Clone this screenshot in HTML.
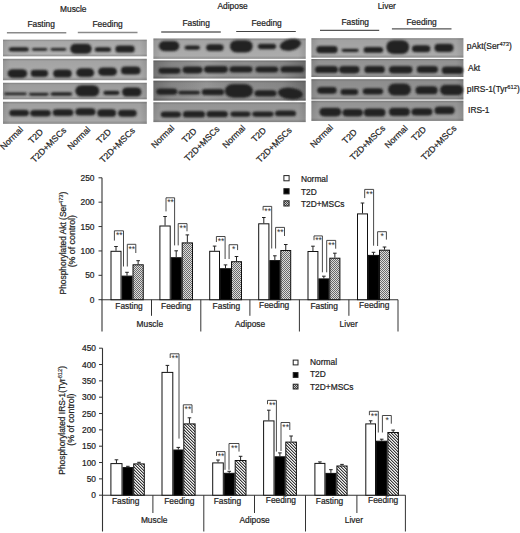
<!DOCTYPE html><html><head><meta charset="utf-8"><style>html,body{margin:0;padding:0;background:#fff;}svg{display:block;}</style></head><body>
<svg width="520" height="533" viewBox="0 0 520 533" font-family='"Liberation Sans", sans-serif'>
<style>text{stroke:#2a2a2a;stroke-width:0.22;paint-order:stroke;}</style>
<defs>
<filter id="bl" x="-20%" y="-50%" width="140%" height="200%"><feGaussianBlur stdDeviation="0.85"/></filter>
<filter id="bl2" x="-5%" y="-5%" width="110%" height="110%"><feGaussianBlur stdDeviation="0.5"/></filter>
<pattern id="p1" x="0" y="0" width="2" height="2" patternUnits="userSpaceOnUse"><rect width="2" height="2" fill="#dcdcdc"/><rect width="1" height="1" fill="#6a6a6a"/><rect x="1" y="1" width="1" height="1" fill="#6a6a6a"/></pattern>
<pattern id="p1s" x="0" y="0" width="2" height="2" patternUnits="userSpaceOnUse"><rect width="2" height="2" fill="#c8c8c8"/><rect width="1" height="1" fill="#444"/><rect x="1" y="1" width="1" height="1" fill="#444"/></pattern>
<pattern id="p2" x="0" y="0" width="3" height="3" patternUnits="userSpaceOnUse"><rect width="3" height="3" fill="#f4f4f4"/><rect x="0" y="0" width="1" height="1" fill="#3a3a3a"/><rect x="1" y="1" width="1" height="1" fill="#3a3a3a"/><rect x="2" y="2" width="1" height="1" fill="#3a3a3a"/><rect x="1" y="0" width="1" height="1" fill="#a8a8a8"/><rect x="2" y="1" width="1" height="1" fill="#a8a8a8"/><rect x="0" y="2" width="1" height="1" fill="#a8a8a8"/></pattern>
<pattern id="p2s" x="0" y="0" width="2" height="2" patternUnits="userSpaceOnUse"><rect width="2" height="2" fill="#c8c8c8"/><rect width="1" height="1" fill="#444"/><rect x="1" y="1" width="1" height="1" fill="#444"/></pattern>
<linearGradient id="edgev" x1="0" y1="0" x2="0" y2="1"><stop offset="0" stop-color="#000" stop-opacity="0.22"/><stop offset="0.12" stop-color="#000" stop-opacity="0.05"/><stop offset="0.85" stop-color="#000" stop-opacity="0.0"/><stop offset="1" stop-color="#000" stop-opacity="0.18"/></linearGradient>
<linearGradient id="edgeh2" x1="0" y1="0" x2="1" y2="0"><stop offset="0" stop-color="#000" stop-opacity="0.22"/><stop offset="0.12" stop-color="#000" stop-opacity="0.06"/><stop offset="0.35" stop-color="#fff" stop-opacity="0.08"/><stop offset="0.6" stop-color="#000" stop-opacity="0.0"/><stop offset="0.85" stop-color="#000" stop-opacity="0.05"/><stop offset="1" stop-color="#000" stop-opacity="0.25"/></linearGradient>
<linearGradient id="edgeh" x1="0" y1="0" x2="1" y2="0"><stop offset="0" stop-color="#000" stop-opacity="0.10"/><stop offset="0.05" stop-color="#000" stop-opacity="0.0"/><stop offset="0.95" stop-color="#000" stop-opacity="0.0"/><stop offset="1" stop-color="#000" stop-opacity="0.10"/></linearGradient>
</defs>
<rect width="520" height="533" fill="#fff"/>
<text x="60.00" y="11.60" font-size="8.4" text-anchor="start" fill="#222" >Muscle</text>
<text x="217.50" y="8.50" font-size="8.4" text-anchor="start" fill="#222" >Adipose</text>
<text x="377.70" y="8.50" font-size="8.4" text-anchor="start" fill="#222" >Liver</text>
<text x="27.40" y="26.70" font-size="8.4" text-anchor="start" fill="#222" >Fasting</text>
<text x="92.50" y="27.30" font-size="8.4" text-anchor="start" fill="#222" >Feeding</text>
<text x="182.40" y="25.80" font-size="8.4" text-anchor="start" fill="#222" >Fasting</text>
<text x="251.50" y="26.20" font-size="8.4" text-anchor="start" fill="#222" >Feeding</text>
<text x="341.50" y="24.90" font-size="8.4" text-anchor="start" fill="#222" >Fasting</text>
<text x="406.50" y="24.60" font-size="8.4" text-anchor="start" fill="#222" >Feeding</text>
<line x1="6.90" y1="32.80" x2="66.30" y2="32.80" stroke="#8a8a8a" stroke-width="1.6"/>
<line x1="77.80" y1="32.50" x2="137.50" y2="32.50" stroke="#8a8a8a" stroke-width="1.6"/>
<line x1="161.20" y1="32.00" x2="220.80" y2="32.00" stroke="#666" stroke-width="1.4"/>
<line x1="236.20" y1="31.50" x2="295.80" y2="31.50" stroke="#444" stroke-width="1.2"/>
<line x1="320.00" y1="30.30" x2="379.20" y2="30.30" stroke="#555" stroke-width="1.2"/>
<line x1="391.90" y1="28.90" x2="451.50" y2="28.90" stroke="#555" stroke-width="1.2"/>
<rect x="3.00" y="39.70" width="143.80" height="16.60" fill="#b0b0b0" />
<rect x="3.00" y="39.70" width="143.80" height="16.60" fill="url(#edgev)" />
<rect x="3.00" y="39.70" width="143.80" height="16.60" fill="url(#edgeh)" />
<rect x="3.00" y="58.80" width="143.80" height="21.40" fill="#acacac" />
<rect x="3.00" y="58.80" width="143.80" height="21.40" fill="url(#edgev)" />
<rect x="3.00" y="58.80" width="143.80" height="21.40" fill="url(#edgeh)" />
<rect x="3.00" y="82.80" width="143.80" height="16.50" fill="#a4a4a4" />
<rect x="3.00" y="82.80" width="143.80" height="16.50" fill="url(#edgev)" />
<rect x="3.00" y="82.80" width="143.80" height="16.50" fill="url(#edgeh)" />
<rect x="3.00" y="101.80" width="143.80" height="22.00" fill="#a8a8a8" />
<rect x="3.00" y="101.80" width="143.80" height="22.00" fill="url(#edgev)" />
<rect x="3.00" y="101.80" width="143.80" height="22.00" fill="url(#edgeh)" />
<g filter="url(#bl)" fill="#232323">
<rect x="8.80" y="47.25" width="20.10" height="4.20" rx="2.69" ry="1.89"/>
<rect x="31.90" y="47.95" width="15.50" height="2.80" rx="2.06" ry="1.26"/>
<rect x="50.50" y="47.95" width="15.80" height="2.80" rx="2.06" ry="1.26"/>
<rect x="70.30" y="43.80" width="21.30" height="10.00" rx="5.30" ry="4.50"/>
<rect x="94.80" y="47.25" width="16.20" height="4.50" rx="2.83" ry="2.02"/>
<rect x="115.40" y="45.50" width="19.20" height="7.10" rx="4.00" ry="3.20"/>
<rect x="7.60" y="69.20" width="19.60" height="8.80" rx="4.76" ry="3.96"/>
<rect x="30.70" y="69.70" width="17.40" height="7.40" rx="4.13" ry="3.33"/>
<rect x="53.20" y="69.40" width="18.50" height="8.20" rx="4.49" ry="3.69"/>
<rect x="76.30" y="68.30" width="17.80" height="8.80" rx="4.76" ry="3.96"/>
<rect x="98.20" y="67.40" width="18.70" height="8.40" rx="4.58" ry="3.78"/>
<rect x="121.00" y="66.60" width="19.50" height="8.00" rx="4.40" ry="3.60"/>
<rect x="4.20" y="92.45" width="22.50" height="2.90" rx="2.10" ry="1.30"/>
<rect x="29.00" y="92.75" width="19.60" height="2.90" rx="2.11" ry="1.31"/>
<rect x="50.50" y="92.25" width="21.70" height="3.40" rx="2.33" ry="1.53"/>
<rect x="75.40" y="85.20" width="23.80" height="11.40" rx="5.93" ry="5.13"/>
<rect x="103.30" y="90.65" width="16.20" height="4.30" rx="2.73" ry="1.93"/>
<rect x="122.20" y="87.40" width="19.20" height="9.20" rx="4.94" ry="4.14"/>
<rect x="9.30" y="109.70" width="19.60" height="6.60" rx="3.77" ry="2.97"/>
<rect x="30.20" y="109.90" width="20.60" height="6.70" rx="3.81" ry="3.01"/>
<rect x="52.70" y="109.20" width="20.70" height="6.70" rx="3.81" ry="3.01"/>
<rect x="75.40" y="108.30" width="20.10" height="7.30" rx="4.08" ry="3.28"/>
<rect x="97.30" y="109.20" width="18.80" height="7.60" rx="4.22" ry="3.42"/>
<rect x="118.10" y="109.70" width="18.60" height="7.10" rx="3.99" ry="3.19"/>
</g>
<rect x="153.40" y="38.50" width="152.30" height="20.30" fill="#acacac" />
<rect x="153.40" y="38.50" width="152.30" height="20.30" fill="url(#edgev)" />
<rect x="153.40" y="38.50" width="152.30" height="20.30" fill="url(#edgeh)" />
<rect x="153.40" y="60.50" width="152.30" height="18.00" fill="#949494" />
<rect x="153.40" y="60.50" width="152.30" height="18.00" fill="url(#edgev)" />
<rect x="153.40" y="60.50" width="152.30" height="18.00" fill="url(#edgeh2)" />
<rect x="153.40" y="80.70" width="152.30" height="19.90" fill="#939393" />
<rect x="153.40" y="80.70" width="152.30" height="19.90" fill="url(#edgev)" />
<rect x="153.40" y="80.70" width="152.30" height="19.90" fill="url(#edgeh2)" />
<rect x="153.40" y="102.30" width="152.30" height="19.80" fill="#9c9c9c" />
<rect x="153.40" y="102.30" width="152.30" height="19.80" fill="url(#edgev)" />
<rect x="153.40" y="102.30" width="152.30" height="19.80" fill="url(#edgeh)" />
<g filter="url(#bl)" fill="#232323">
<rect x="158.90" y="41.00" width="20.40" height="10.20" rx="5.88" ry="4.61"/>
<rect x="184.60" y="45.55" width="15.40" height="4.20" rx="2.69" ry="1.89"/>
<rect x="206.20" y="44.20" width="17.40" height="6.70" rx="3.82" ry="3.02"/>
<rect x="230.00" y="40.20" width="22.60" height="12.20" rx="6.54" ry="5.57"/>
<rect x="257.90" y="43.80" width="18.20" height="5.50" rx="3.28" ry="2.48"/>
<ellipse cx="290.40" cy="44.85" rx="10.80" ry="5.65" transform="rotate(-12 290.40 44.85)"/>
<rect x="158.50" y="67.80" width="22.00" height="5.90" rx="3.45" ry="2.65"/>
<rect x="182.60" y="66.60" width="19.90" height="6.80" rx="3.86" ry="3.06"/>
<rect x="204.00" y="66.10" width="23.80" height="6.80" rx="3.86" ry="3.06"/>
<rect x="229.50" y="66.30" width="23.00" height="6.10" rx="3.54" ry="2.74"/>
<rect x="255.40" y="66.60" width="22.80" height="5.80" rx="3.41" ry="2.61"/>
<rect x="280.50" y="66.30" width="23.50" height="6.30" rx="3.63" ry="2.83"/>
<rect x="156.30" y="88.60" width="20.90" height="6.20" rx="3.59" ry="2.79"/>
<rect x="178.20" y="90.65" width="21.80" height="3.80" rx="2.51" ry="1.71"/>
<rect x="201.80" y="89.10" width="22.30" height="6.20" rx="3.59" ry="2.79"/>
<rect x="224.90" y="84.10" width="28.00" height="13.60" rx="8.16" ry="6.24"/>
<rect x="254.50" y="90.30" width="22.00" height="6.20" rx="3.59" ry="2.79"/>
<ellipse cx="290.40" cy="93.55" rx="12.50" ry="5.85" transform="rotate(6 290.40 93.55)"/>
<rect x="160.70" y="111.40" width="20.20" height="6.20" rx="3.59" ry="2.79"/>
<rect x="182.90" y="111.00" width="22.10" height="6.60" rx="3.77" ry="2.97"/>
<rect x="206.50" y="111.00" width="21.30" height="6.30" rx="3.63" ry="2.83"/>
<rect x="230.40" y="111.40" width="20.10" height="5.40" rx="3.23" ry="2.43"/>
<rect x="252.30" y="111.40" width="21.30" height="5.40" rx="3.23" ry="2.43"/>
<rect x="275.10" y="110.50" width="20.90" height="5.80" rx="3.41" ry="2.61"/>
</g>
<rect x="311.40" y="38.20" width="152.00" height="19.40" fill="#aaaaaa" />
<rect x="311.40" y="38.20" width="152.00" height="19.40" fill="url(#edgev)" />
<rect x="311.40" y="38.20" width="152.00" height="19.40" fill="url(#edgeh)" />
<rect x="311.40" y="59.00" width="152.00" height="18.00" fill="#9a9a9a" />
<rect x="311.40" y="59.00" width="152.00" height="18.00" fill="url(#edgev)" />
<rect x="311.40" y="59.00" width="152.00" height="18.00" fill="url(#edgeh)" />
<rect x="311.40" y="79.20" width="152.00" height="20.30" fill="#959595" />
<rect x="311.40" y="79.20" width="152.00" height="20.30" fill="url(#edgev)" />
<rect x="311.40" y="79.20" width="152.00" height="20.30" fill="url(#edgeh)" />
<rect x="311.40" y="100.70" width="152.00" height="20.20" fill="#9c9c9c" />
<rect x="311.40" y="100.70" width="152.00" height="20.20" fill="url(#edgev)" />
<rect x="311.40" y="100.70" width="152.00" height="20.20" fill="url(#edgeh)" />
<g filter="url(#bl)" fill="#232323">
<rect x="316.30" y="46.10" width="21.30" height="7.10" rx="4.00" ry="3.20"/>
<rect x="341.60" y="48.65" width="17.10" height="3.30" rx="2.29" ry="1.49"/>
<rect x="363.60" y="46.90" width="19.50" height="5.90" rx="3.46" ry="2.66"/>
<rect x="386.40" y="40.30" width="22.70" height="13.70" rx="6.97" ry="6.17"/>
<rect x="412.00" y="45.20" width="18.30" height="7.10" rx="4.00" ry="3.20"/>
<rect x="434.50" y="43.80" width="19.00" height="8.10" rx="4.45" ry="3.65"/>
<rect x="315.00" y="66.00" width="22.90" height="7.10" rx="3.99" ry="3.19"/>
<rect x="339.10" y="66.00" width="20.40" height="7.40" rx="4.13" ry="3.33"/>
<rect x="364.40" y="66.00" width="20.40" height="7.10" rx="3.99" ry="3.19"/>
<rect x="389.00" y="65.90" width="23.50" height="7.60" rx="4.22" ry="3.42"/>
<rect x="416.70" y="65.90" width="21.30" height="7.10" rx="3.99" ry="3.19"/>
<rect x="441.80" y="66.60" width="21.40" height="7.50" rx="4.17" ry="3.37"/>
<rect x="317.20" y="87.10" width="19.50" height="6.60" rx="3.77" ry="2.97"/>
<rect x="340.50" y="89.10" width="17.70" height="5.90" rx="3.45" ry="2.65"/>
<rect x="362.70" y="88.30" width="20.40" height="6.20" rx="3.59" ry="2.79"/>
<rect x="388.20" y="83.60" width="22.60" height="11.90" rx="6.15" ry="5.35"/>
<rect x="415.50" y="86.20" width="22.10" height="8.10" rx="4.44" ry="3.64"/>
<rect x="440.10" y="84.80" width="23.10" height="10.40" rx="5.48" ry="4.68"/>
<rect x="319.40" y="107.70" width="21.90" height="8.80" rx="4.76" ry="3.96"/>
<rect x="342.50" y="109.00" width="20.40" height="7.50" rx="4.17" ry="3.38"/>
<rect x="363.90" y="108.50" width="21.60" height="8.00" rx="4.40" ry="3.60"/>
<rect x="389.00" y="107.80" width="20.90" height="8.10" rx="4.44" ry="3.64"/>
<rect x="411.50" y="108.20" width="20.90" height="7.40" rx="4.13" ry="3.33"/>
<rect x="434.50" y="106.40" width="20.10" height="7.80" rx="4.31" ry="3.51"/>
</g>
<text x="0" y="0" font-size="8.8" text-anchor="end" fill="#222" transform="translate(23.70,130.20) rotate(-45)">Normal</text>
<text x="0" y="0" font-size="8.8" text-anchor="end" fill="#222" transform="translate(43.70,132.50) rotate(-45)">T2D</text>
<text x="0" y="0" font-size="8.8" text-anchor="end" fill="#222" transform="translate(66.80,131.00) rotate(-45)">T2D+MSCs</text>
<text x="0" y="0" font-size="8.8" text-anchor="end" fill="#222" transform="translate(91.00,130.20) rotate(-45)">Normal</text>
<text x="0" y="0" font-size="8.8" text-anchor="end" fill="#222" transform="translate(111.80,132.50) rotate(-45)">T2D</text>
<text x="0" y="0" font-size="8.8" text-anchor="end" fill="#222" transform="translate(135.60,131.20) rotate(-45)">T2D+MSCs</text>
<text x="0" y="0" font-size="8.8" text-anchor="end" fill="#222" transform="translate(174.90,128.70) rotate(-45)">Normal</text>
<text x="0" y="0" font-size="8.8" text-anchor="end" fill="#222" transform="translate(197.20,131.70) rotate(-45)">T2D</text>
<text x="0" y="0" font-size="8.8" text-anchor="end" fill="#222" transform="translate(220.20,129.70) rotate(-45)">T2D+MSCs</text>
<text x="0" y="0" font-size="8.8" text-anchor="end" fill="#222" transform="translate(246.00,128.70) rotate(-45)">Normal</text>
<text x="0" y="0" font-size="8.8" text-anchor="end" fill="#222" transform="translate(266.80,131.00) rotate(-45)">T2D</text>
<text x="0" y="0" font-size="8.8" text-anchor="end" fill="#222" transform="translate(292.40,131.00) rotate(-45)">T2D+MSCs</text>
<text x="0" y="0" font-size="8.8" text-anchor="end" fill="#222" transform="translate(333.70,128.20) rotate(-45)">Normal</text>
<text x="0" y="0" font-size="8.8" text-anchor="end" fill="#222" transform="translate(357.60,132.80) rotate(-45)">T2D</text>
<text x="0" y="0" font-size="8.8" text-anchor="end" fill="#222" transform="translate(385.80,128.80) rotate(-45)">T2D+MSCs</text>
<text x="0" y="0" font-size="8.8" text-anchor="end" fill="#222" transform="translate(408.30,128.80) rotate(-45)">Normal</text>
<text x="0" y="0" font-size="8.8" text-anchor="end" fill="#222" transform="translate(426.80,130.10) rotate(-45)">T2D</text>
<text x="0" y="0" font-size="8.8" text-anchor="end" fill="#222" transform="translate(457.00,128.80) rotate(-45)">T2D+MSCs</text>
<text x="466.80" y="49.20" font-size="8.4" text-anchor="start" fill="#222" >pAkt(Ser<tspan font-size="5.8" dy="-3" stroke="#222" stroke-width="0.15">473</tspan><tspan dy="3">)</tspan></text>
<text x="468.10" y="70.80" font-size="8.4" text-anchor="start" fill="#222" >Akt</text>
<text x="466.80" y="92.30" font-size="8.4" text-anchor="start" fill="#222" >pIRS-1(Tyr<tspan font-size="5.8" dy="-3" stroke="#222" stroke-width="0.15">612</tspan><tspan dy="3">)</tspan></text>
<text x="468.10" y="113.40" font-size="8.4" text-anchor="start" fill="#222" >IRS-1</text>
<line x1="102.00" y1="177.80" x2="102.00" y2="331.50" stroke="#333" stroke-width="1.1"/>
<line x1="101.50" y1="299.70" x2="398.00" y2="299.70" stroke="#333" stroke-width="1.1"/>
<line x1="98.50" y1="299.70" x2="102.00" y2="299.70" stroke="#333" stroke-width="1.0"/>
<text x="94.50" y="302.70" font-size="8.4" text-anchor="end" fill="#222" >0</text>
<line x1="98.50" y1="275.32" x2="102.00" y2="275.32" stroke="#333" stroke-width="1.0"/>
<text x="94.50" y="278.32" font-size="8.4" text-anchor="end" fill="#222" >50</text>
<line x1="98.50" y1="250.94" x2="102.00" y2="250.94" stroke="#333" stroke-width="1.0"/>
<text x="94.50" y="253.94" font-size="8.4" text-anchor="end" fill="#222" >100</text>
<line x1="98.50" y1="226.56" x2="102.00" y2="226.56" stroke="#333" stroke-width="1.0"/>
<text x="94.50" y="229.56" font-size="8.4" text-anchor="end" fill="#222" >150</text>
<line x1="98.50" y1="202.18" x2="102.00" y2="202.18" stroke="#333" stroke-width="1.0"/>
<text x="94.50" y="205.18" font-size="8.4" text-anchor="end" fill="#222" >200</text>
<line x1="98.50" y1="177.80" x2="102.00" y2="177.80" stroke="#333" stroke-width="1.0"/>
<text x="94.50" y="180.80" font-size="8.4" text-anchor="end" fill="#222" >250</text>
<line x1="151.50" y1="299.70" x2="151.50" y2="315.80" stroke="#333" stroke-width="1.0"/>
<line x1="200.80" y1="299.70" x2="200.80" y2="331.50" stroke="#333" stroke-width="1.0"/>
<line x1="249.90" y1="299.70" x2="249.90" y2="315.80" stroke="#333" stroke-width="1.0"/>
<line x1="299.40" y1="299.70" x2="299.40" y2="331.50" stroke="#333" stroke-width="1.0"/>
<line x1="348.90" y1="299.70" x2="348.90" y2="315.80" stroke="#333" stroke-width="1.0"/>
<line x1="398.00" y1="299.70" x2="398.00" y2="331.50" stroke="#333" stroke-width="1.0"/>
<text x="129.05" y="308.80" font-size="8.4" text-anchor="middle" fill="#222" >Fasting</text>
<text x="176.15" y="308.80" font-size="8.4" text-anchor="middle" fill="#222" >Feeding</text>
<text x="226.35" y="308.80" font-size="8.4" text-anchor="middle" fill="#222" >Fasting</text>
<text x="274.15" y="308.20" font-size="8.4" text-anchor="middle" fill="#222" >Feeding</text>
<text x="324.15" y="308.80" font-size="8.4" text-anchor="middle" fill="#222" >Fasting</text>
<text x="374.25" y="307.80" font-size="8.4" text-anchor="middle" fill="#222" >Feeding</text>
<text x="149.80" y="326.80" font-size="8.4" text-anchor="middle" fill="#222" >Muscle</text>
<text x="250.10" y="326.80" font-size="8.4" text-anchor="middle" fill="#222" >Adipose</text>
<text x="348.70" y="326.80" font-size="8.4" text-anchor="middle" fill="#222" >Liver</text>
<line x1="116.00" y1="246.50" x2="116.00" y2="250.80" stroke="#222" stroke-width="1.0"/>
<line x1="114.20" y1="246.50" x2="117.80" y2="246.50" stroke="#222" stroke-width="1.0"/>
<rect x="111.00" y="251.30" width="10.00" height="48.40" fill="#fff" stroke="#111" stroke-width="1"/>
<line x1="127.00" y1="272.30" x2="127.00" y2="275.60" stroke="#222" stroke-width="1.0"/>
<line x1="125.20" y1="272.30" x2="128.80" y2="272.30" stroke="#222" stroke-width="1.0"/>
<rect x="122.00" y="276.10" width="10.00" height="23.60" fill="#000" stroke="#111" stroke-width="1"/>
<line x1="138.12" y1="260.70" x2="138.12" y2="264.30" stroke="#222" stroke-width="1.0"/>
<line x1="136.32" y1="260.70" x2="139.93" y2="260.70" stroke="#222" stroke-width="1.0"/>
<rect x="133.00" y="264.80" width="10.25" height="34.90" fill="url(#p1)" stroke="#111" stroke-width="1"/>
<line x1="165.05" y1="216.50" x2="165.05" y2="225.50" stroke="#222" stroke-width="1.0"/>
<line x1="163.25" y1="216.50" x2="166.85" y2="216.50" stroke="#222" stroke-width="1.0"/>
<rect x="159.90" y="226.00" width="10.30" height="73.70" fill="#fff" stroke="#111" stroke-width="1"/>
<line x1="176.20" y1="250.80" x2="176.20" y2="257.20" stroke="#222" stroke-width="1.0"/>
<line x1="174.40" y1="250.80" x2="178.00" y2="250.80" stroke="#222" stroke-width="1.0"/>
<rect x="171.20" y="257.70" width="10.00" height="42.00" fill="#000" stroke="#111" stroke-width="1"/>
<line x1="187.35" y1="234.90" x2="187.35" y2="242.40" stroke="#222" stroke-width="1.0"/>
<line x1="185.55" y1="234.90" x2="189.15" y2="234.90" stroke="#222" stroke-width="1.0"/>
<rect x="182.20" y="242.90" width="10.30" height="56.80" fill="url(#p1)" stroke="#111" stroke-width="1"/>
<line x1="214.60" y1="246.10" x2="214.60" y2="250.80" stroke="#222" stroke-width="1.0"/>
<line x1="212.80" y1="246.10" x2="216.40" y2="246.10" stroke="#222" stroke-width="1.0"/>
<rect x="209.70" y="251.30" width="9.80" height="48.40" fill="#fff" stroke="#111" stroke-width="1"/>
<line x1="225.50" y1="264.90" x2="225.50" y2="268.20" stroke="#222" stroke-width="1.0"/>
<line x1="223.70" y1="264.90" x2="227.30" y2="264.90" stroke="#222" stroke-width="1.0"/>
<rect x="220.50" y="268.70" width="10.00" height="31.00" fill="#000" stroke="#111" stroke-width="1"/>
<line x1="236.50" y1="256.50" x2="236.50" y2="261.20" stroke="#222" stroke-width="1.0"/>
<line x1="234.70" y1="256.50" x2="238.30" y2="256.50" stroke="#222" stroke-width="1.0"/>
<rect x="231.50" y="261.70" width="10.00" height="38.00" fill="url(#p1)" stroke="#111" stroke-width="1"/>
<line x1="263.80" y1="217.50" x2="263.80" y2="223.30" stroke="#222" stroke-width="1.0"/>
<line x1="262.00" y1="217.50" x2="265.60" y2="217.50" stroke="#222" stroke-width="1.0"/>
<rect x="258.70" y="223.80" width="10.20" height="75.90" fill="#fff" stroke="#111" stroke-width="1"/>
<line x1="274.85" y1="255.80" x2="274.85" y2="260.10" stroke="#222" stroke-width="1.0"/>
<line x1="273.05" y1="255.80" x2="276.65" y2="255.80" stroke="#222" stroke-width="1.0"/>
<rect x="269.90" y="260.60" width="9.90" height="39.10" fill="#000" stroke="#111" stroke-width="1"/>
<line x1="285.75" y1="244.50" x2="285.75" y2="250.00" stroke="#222" stroke-width="1.0"/>
<line x1="283.95" y1="244.50" x2="287.55" y2="244.50" stroke="#222" stroke-width="1.0"/>
<rect x="280.80" y="250.50" width="9.90" height="49.20" fill="url(#p1)" stroke="#111" stroke-width="1"/>
<line x1="312.95" y1="246.20" x2="312.95" y2="251.00" stroke="#222" stroke-width="1.0"/>
<line x1="311.15" y1="246.20" x2="314.75" y2="246.20" stroke="#222" stroke-width="1.0"/>
<rect x="308.00" y="251.50" width="9.90" height="48.20" fill="#fff" stroke="#111" stroke-width="1"/>
<line x1="323.85" y1="276.20" x2="323.85" y2="278.40" stroke="#222" stroke-width="1.0"/>
<line x1="322.05" y1="276.20" x2="325.65" y2="276.20" stroke="#222" stroke-width="1.0"/>
<rect x="318.90" y="278.90" width="9.90" height="20.80" fill="#000" stroke="#111" stroke-width="1"/>
<line x1="334.85" y1="253.20" x2="334.85" y2="257.70" stroke="#222" stroke-width="1.0"/>
<line x1="333.05" y1="253.20" x2="336.65" y2="253.20" stroke="#222" stroke-width="1.0"/>
<rect x="329.80" y="258.20" width="10.10" height="41.50" fill="url(#p1)" stroke="#111" stroke-width="1"/>
<line x1="362.50" y1="203.00" x2="362.50" y2="213.40" stroke="#222" stroke-width="1.0"/>
<line x1="360.70" y1="203.00" x2="364.30" y2="203.00" stroke="#222" stroke-width="1.0"/>
<rect x="357.50" y="213.90" width="10.00" height="85.80" fill="#fff" stroke="#111" stroke-width="1"/>
<line x1="373.50" y1="252.30" x2="373.50" y2="254.90" stroke="#222" stroke-width="1.0"/>
<line x1="371.70" y1="252.30" x2="375.30" y2="252.30" stroke="#222" stroke-width="1.0"/>
<rect x="368.50" y="255.40" width="10.00" height="44.30" fill="#000" stroke="#111" stroke-width="1"/>
<line x1="384.50" y1="247.00" x2="384.50" y2="249.70" stroke="#222" stroke-width="1.0"/>
<line x1="382.70" y1="247.00" x2="386.30" y2="247.00" stroke="#222" stroke-width="1.0"/>
<rect x="379.50" y="250.20" width="10.00" height="49.50" fill="url(#p1)" stroke="#111" stroke-width="1"/>
<path d="M114.40,240.60 V230.80 H123.50 V266.50" fill="none" stroke="#333" stroke-width="0.9"/>
<text x="119.25" y="238.00" font-size="8.6" text-anchor="middle" fill="#333" style="stroke:none">**</text>
<path d="M127.30,266.50 V244.30 H135.80 V253.00" fill="none" stroke="#333" stroke-width="0.9"/>
<text x="131.85" y="251.50" font-size="8.6" text-anchor="middle" fill="#333" style="stroke:none">**</text>
<path d="M166.00,211.40 V197.80 H174.60 V245.40" fill="none" stroke="#333" stroke-width="0.9"/>
<text x="170.60" y="205.00" font-size="8.6" text-anchor="middle" fill="#333" style="stroke:none">**</text>
<path d="M178.20,245.40 V223.60 H187.00 V231.30" fill="none" stroke="#333" stroke-width="0.9"/>
<text x="182.90" y="230.80" font-size="8.6" text-anchor="middle" fill="#333" style="stroke:none">**</text>
<path d="M216.40,242.00 V236.50 H225.10 V259.00" fill="none" stroke="#333" stroke-width="0.9"/>
<text x="221.05" y="243.70" font-size="8.6" text-anchor="middle" fill="#333" style="stroke:none">**</text>
<path d="M229.10,259.00 V244.70 H237.60 V250.10" fill="none" stroke="#333" stroke-width="0.9"/>
<text x="233.65" y="251.90" font-size="8.6" text-anchor="middle" fill="#333" style="stroke:none">*</text>
<path d="M263.10,210.40 V206.40 H271.70 V248.50" fill="none" stroke="#333" stroke-width="0.9"/>
<text x="267.70" y="213.60" font-size="8.6" text-anchor="middle" fill="#333" style="stroke:none">**</text>
<path d="M275.60,248.50 V227.40 H284.50 V236.00" fill="none" stroke="#333" stroke-width="0.9"/>
<text x="280.35" y="234.60" font-size="8.6" text-anchor="middle" fill="#333" style="stroke:none">**</text>
<path d="M314.00,240.20 V235.90 H322.40 V272.30" fill="none" stroke="#333" stroke-width="0.9"/>
<text x="318.50" y="243.10" font-size="8.6" text-anchor="middle" fill="#333" style="stroke:none">**</text>
<path d="M326.70,272.30 V240.40 H335.70 V248.70" fill="none" stroke="#333" stroke-width="0.9"/>
<text x="331.50" y="247.60" font-size="8.6" text-anchor="middle" fill="#333" style="stroke:none">**</text>
<path d="M364.70,198.10 V189.40 H373.60 V245.70" fill="none" stroke="#333" stroke-width="0.9"/>
<text x="369.45" y="196.60" font-size="8.6" text-anchor="middle" fill="#333" style="stroke:none">**</text>
<path d="M377.60,246.00 V231.70 H386.40 V239.60" fill="none" stroke="#333" stroke-width="0.9"/>
<text x="382.30" y="238.90" font-size="8.6" text-anchor="middle" fill="#333" style="stroke:none">*</text>
<rect x="283.90" y="175.60" width="5.20" height="5.20" fill="#fff" stroke="#222" stroke-width="1"/>
<text x="300.90" y="182.10" font-size="8.4" text-anchor="start" fill="#222" >Normal</text>
<rect x="283.90" y="188.70" width="5.20" height="5.20" fill="#000" stroke="#222" stroke-width="1"/>
<text x="300.90" y="194.90" font-size="8.4" text-anchor="start" fill="#222" >T2D</text>
<rect x="283.90" y="200.80" width="5.20" height="5.20" fill="url(#p1s)" stroke="#222" stroke-width="1"/>
<text x="300.90" y="207.00" font-size="8.4" text-anchor="start" fill="#222" >T2D+MSCs</text>
<text x="0" y="0" font-size="8.4" text-anchor="middle" fill="#222" transform="translate(66.00,243.00) rotate(-90)">Phosphorylated Akt (Ser<tspan font-size="5.8" dy="-3" stroke="#222" stroke-width="0.15">473</tspan><tspan dy="3">)</tspan></text>
<text x="0" y="0" font-size="8.8" text-anchor="middle" fill="#222" transform="translate(75.00,241.20) rotate(-90)">(% of control)</text>
<line x1="102.50" y1="348.19" x2="102.50" y2="531.50" stroke="#333" stroke-width="1.1"/>
<line x1="102.00" y1="495.20" x2="405.40" y2="495.20" stroke="#333" stroke-width="1.1"/>
<line x1="99.00" y1="495.20" x2="102.50" y2="495.20" stroke="#333" stroke-width="1.0"/>
<text x="96.00" y="498.20" font-size="8.4" text-anchor="end" fill="#222" >0</text>
<line x1="99.00" y1="478.87" x2="102.50" y2="478.87" stroke="#333" stroke-width="1.0"/>
<text x="96.00" y="481.87" font-size="8.4" text-anchor="end" fill="#222" >50</text>
<line x1="99.00" y1="462.53" x2="102.50" y2="462.53" stroke="#333" stroke-width="1.0"/>
<text x="96.00" y="465.53" font-size="8.4" text-anchor="end" fill="#222" >100</text>
<line x1="99.00" y1="446.19" x2="102.50" y2="446.19" stroke="#333" stroke-width="1.0"/>
<text x="96.00" y="449.19" font-size="8.4" text-anchor="end" fill="#222" >150</text>
<line x1="99.00" y1="429.86" x2="102.50" y2="429.86" stroke="#333" stroke-width="1.0"/>
<text x="96.00" y="432.86" font-size="8.4" text-anchor="end" fill="#222" >200</text>
<line x1="99.00" y1="413.52" x2="102.50" y2="413.52" stroke="#333" stroke-width="1.0"/>
<text x="96.00" y="416.52" font-size="8.4" text-anchor="end" fill="#222" >250</text>
<line x1="99.00" y1="397.19" x2="102.50" y2="397.19" stroke="#333" stroke-width="1.0"/>
<text x="96.00" y="400.19" font-size="8.4" text-anchor="end" fill="#222" >300</text>
<line x1="99.00" y1="380.86" x2="102.50" y2="380.86" stroke="#333" stroke-width="1.0"/>
<text x="96.00" y="383.86" font-size="8.4" text-anchor="end" fill="#222" >350</text>
<line x1="99.00" y1="364.52" x2="102.50" y2="364.52" stroke="#333" stroke-width="1.0"/>
<text x="96.00" y="367.52" font-size="8.4" text-anchor="end" fill="#222" >400</text>
<line x1="99.00" y1="348.19" x2="102.50" y2="348.19" stroke="#333" stroke-width="1.0"/>
<text x="96.00" y="351.19" font-size="8.4" text-anchor="end" fill="#222" >450</text>
<line x1="152.90" y1="495.20" x2="152.90" y2="513.00" stroke="#333" stroke-width="1.0"/>
<line x1="203.80" y1="495.20" x2="203.80" y2="531.50" stroke="#333" stroke-width="1.0"/>
<line x1="254.50" y1="495.20" x2="254.50" y2="513.00" stroke="#333" stroke-width="1.0"/>
<line x1="305.50" y1="495.20" x2="305.50" y2="531.50" stroke="#333" stroke-width="1.0"/>
<line x1="356.90" y1="495.20" x2="356.90" y2="513.00" stroke="#333" stroke-width="1.0"/>
<line x1="405.40" y1="495.20" x2="405.40" y2="531.50" stroke="#333" stroke-width="1.0"/>
<text x="125.70" y="504.30" font-size="8.4" text-anchor="middle" fill="#222" >Fasting</text>
<text x="179.35" y="504.30" font-size="8.4" text-anchor="middle" fill="#222" >Feeding</text>
<text x="227.45" y="504.30" font-size="8.4" text-anchor="middle" fill="#222" >Fasting</text>
<text x="280.90" y="503.30" font-size="8.4" text-anchor="middle" fill="#222" >Feeding</text>
<text x="329.50" y="504.30" font-size="8.4" text-anchor="middle" fill="#222" >Fasting</text>
<text x="383.15" y="503.10" font-size="8.4" text-anchor="middle" fill="#222" >Feeding</text>
<text x="154.15" y="523.00" font-size="8.4" text-anchor="middle" fill="#222" >Muscle</text>
<text x="254.65" y="523.00" font-size="8.4" text-anchor="middle" fill="#222" >Adipose</text>
<text x="353.85" y="523.00" font-size="8.4" text-anchor="middle" fill="#222" >Liver</text>
<line x1="116.45" y1="459.80" x2="116.45" y2="463.10" stroke="#222" stroke-width="1.0"/>
<line x1="114.65" y1="459.80" x2="118.25" y2="459.80" stroke="#222" stroke-width="1.0"/>
<rect x="110.90" y="463.60" width="11.10" height="31.60" fill="#fff" stroke="#111" stroke-width="1"/>
<line x1="127.85" y1="466.30" x2="127.85" y2="467.10" stroke="#222" stroke-width="1.0"/>
<line x1="126.05" y1="466.30" x2="129.65" y2="466.30" stroke="#222" stroke-width="1.0"/>
<rect x="123.00" y="467.60" width="9.70" height="27.60" fill="#000" stroke="#111" stroke-width="1"/>
<line x1="139.00" y1="462.30" x2="139.00" y2="463.40" stroke="#222" stroke-width="1.0"/>
<line x1="137.20" y1="462.30" x2="140.80" y2="462.30" stroke="#222" stroke-width="1.0"/>
<rect x="133.70" y="463.90" width="10.60" height="31.30" fill="url(#p2)" stroke="#111" stroke-width="1"/>
<line x1="167.40" y1="365.40" x2="167.40" y2="371.90" stroke="#222" stroke-width="1.0"/>
<line x1="165.60" y1="365.40" x2="169.20" y2="365.40" stroke="#222" stroke-width="1.0"/>
<rect x="162.00" y="372.40" width="10.80" height="122.80" fill="#fff" stroke="#111" stroke-width="1"/>
<line x1="178.30" y1="447.40" x2="178.30" y2="449.50" stroke="#222" stroke-width="1.0"/>
<line x1="176.50" y1="447.40" x2="180.10" y2="447.40" stroke="#222" stroke-width="1.0"/>
<rect x="173.80" y="450.00" width="9.00" height="45.20" fill="#000" stroke="#111" stroke-width="1"/>
<line x1="189.45" y1="417.80" x2="189.45" y2="423.40" stroke="#222" stroke-width="1.0"/>
<line x1="187.65" y1="417.80" x2="191.25" y2="417.80" stroke="#222" stroke-width="1.0"/>
<rect x="183.80" y="423.90" width="11.30" height="71.30" fill="url(#p2)" stroke="#111" stroke-width="1"/>
<line x1="218.00" y1="460.00" x2="218.00" y2="462.40" stroke="#222" stroke-width="1.0"/>
<line x1="216.20" y1="460.00" x2="219.80" y2="460.00" stroke="#222" stroke-width="1.0"/>
<rect x="212.70" y="462.90" width="10.60" height="32.30" fill="#fff" stroke="#111" stroke-width="1"/>
<line x1="229.25" y1="471.30" x2="229.25" y2="472.80" stroke="#222" stroke-width="1.0"/>
<line x1="227.45" y1="471.30" x2="231.05" y2="471.30" stroke="#222" stroke-width="1.0"/>
<rect x="224.30" y="473.30" width="9.90" height="21.90" fill="#000" stroke="#111" stroke-width="1"/>
<line x1="240.60" y1="456.30" x2="240.60" y2="460.00" stroke="#222" stroke-width="1.0"/>
<line x1="238.80" y1="456.30" x2="242.40" y2="456.30" stroke="#222" stroke-width="1.0"/>
<rect x="235.20" y="460.50" width="10.80" height="34.70" fill="url(#p2)" stroke="#111" stroke-width="1"/>
<line x1="268.80" y1="410.20" x2="268.80" y2="420.40" stroke="#222" stroke-width="1.0"/>
<line x1="267.00" y1="410.20" x2="270.60" y2="410.20" stroke="#222" stroke-width="1.0"/>
<rect x="263.60" y="420.90" width="10.40" height="74.30" fill="#fff" stroke="#111" stroke-width="1"/>
<line x1="279.90" y1="452.90" x2="279.90" y2="456.30" stroke="#222" stroke-width="1.0"/>
<line x1="278.10" y1="452.90" x2="281.70" y2="452.90" stroke="#222" stroke-width="1.0"/>
<rect x="275.00" y="456.80" width="9.80" height="38.40" fill="#000" stroke="#111" stroke-width="1"/>
<line x1="291.10" y1="436.00" x2="291.10" y2="441.60" stroke="#222" stroke-width="1.0"/>
<line x1="289.30" y1="436.00" x2="292.90" y2="436.00" stroke="#222" stroke-width="1.0"/>
<rect x="285.80" y="442.10" width="10.60" height="53.10" fill="url(#p2)" stroke="#111" stroke-width="1"/>
<line x1="319.90" y1="461.90" x2="319.90" y2="462.90" stroke="#222" stroke-width="1.0"/>
<line x1="318.10" y1="461.90" x2="321.70" y2="461.90" stroke="#222" stroke-width="1.0"/>
<rect x="314.90" y="463.40" width="10.00" height="31.80" fill="#fff" stroke="#111" stroke-width="1"/>
<line x1="330.90" y1="469.70" x2="330.90" y2="472.90" stroke="#222" stroke-width="1.0"/>
<line x1="329.10" y1="469.70" x2="332.70" y2="469.70" stroke="#222" stroke-width="1.0"/>
<rect x="325.90" y="473.40" width="10.00" height="21.80" fill="#000" stroke="#111" stroke-width="1"/>
<line x1="342.00" y1="464.40" x2="342.00" y2="465.50" stroke="#222" stroke-width="1.0"/>
<line x1="340.20" y1="464.40" x2="343.80" y2="464.40" stroke="#222" stroke-width="1.0"/>
<rect x="336.90" y="466.00" width="10.20" height="29.20" fill="url(#p2)" stroke="#111" stroke-width="1"/>
<line x1="370.65" y1="420.80" x2="370.65" y2="423.40" stroke="#222" stroke-width="1.0"/>
<line x1="368.85" y1="420.80" x2="372.45" y2="420.80" stroke="#222" stroke-width="1.0"/>
<rect x="365.80" y="423.90" width="9.70" height="71.30" fill="#fff" stroke="#111" stroke-width="1"/>
<line x1="381.70" y1="439.20" x2="381.70" y2="440.70" stroke="#222" stroke-width="1.0"/>
<line x1="379.90" y1="439.20" x2="383.50" y2="439.20" stroke="#222" stroke-width="1.0"/>
<rect x="376.50" y="441.20" width="10.40" height="54.00" fill="#000" stroke="#111" stroke-width="1"/>
<line x1="393.15" y1="430.10" x2="393.15" y2="432.00" stroke="#222" stroke-width="1.0"/>
<line x1="391.35" y1="430.10" x2="394.95" y2="430.10" stroke="#222" stroke-width="1.0"/>
<rect x="387.90" y="432.50" width="10.50" height="62.70" fill="url(#p2)" stroke="#111" stroke-width="1"/>
<path d="M170.20,358.00 V353.80 H179.00 V438.60" fill="none" stroke="#333" stroke-width="0.9"/>
<text x="174.90" y="361.00" font-size="8.6" text-anchor="middle" fill="#333" style="stroke:none">**</text>
<path d="M183.30,438.60 V404.80 H192.00 V413.10" fill="none" stroke="#333" stroke-width="0.9"/>
<text x="187.95" y="412.00" font-size="8.6" text-anchor="middle" fill="#333" style="stroke:none">**</text>
<path d="M216.50,455.90 V451.60 H225.00 V469.80" fill="none" stroke="#333" stroke-width="0.9"/>
<text x="221.05" y="458.80" font-size="8.6" text-anchor="middle" fill="#333" style="stroke:none">**</text>
<path d="M229.00,469.80 V443.50 H239.00 V451.60" fill="none" stroke="#333" stroke-width="0.9"/>
<text x="234.30" y="450.70" font-size="8.6" text-anchor="middle" fill="#333" style="stroke:none">**</text>
<path d="M267.50,404.20 V400.40 H276.40 V451.60" fill="none" stroke="#333" stroke-width="0.9"/>
<text x="272.25" y="407.60" font-size="8.6" text-anchor="middle" fill="#333" style="stroke:none">**</text>
<path d="M281.00,451.00 V422.50 H289.80 V430.00" fill="none" stroke="#333" stroke-width="0.9"/>
<text x="285.70" y="429.70" font-size="8.6" text-anchor="middle" fill="#333" style="stroke:none">**</text>
<path d="M369.40,415.20 V411.30 H378.30 V432.50" fill="none" stroke="#333" stroke-width="0.9"/>
<text x="374.15" y="418.50" font-size="8.6" text-anchor="middle" fill="#333" style="stroke:none">**</text>
<path d="M382.40,432.50 V415.50 H391.30 V423.70" fill="none" stroke="#333" stroke-width="0.9"/>
<text x="387.15" y="422.70" font-size="8.6" text-anchor="middle" fill="#333" style="stroke:none">*</text>
<rect x="293.20" y="360.10" width="4.80" height="4.80" fill="#fff" stroke="#222" stroke-width="1"/>
<text x="310.00" y="365.40" font-size="8.4" text-anchor="start" fill="#222" >Normal</text>
<rect x="293.20" y="372.60" width="4.80" height="4.80" fill="#000" stroke="#222" stroke-width="1"/>
<text x="310.00" y="377.30" font-size="8.4" text-anchor="start" fill="#222" >T2D</text>
<rect x="293.20" y="384.20" width="4.80" height="4.80" fill="url(#p2s)" stroke="#222" stroke-width="1"/>
<text x="310.00" y="390.00" font-size="8.4" text-anchor="start" fill="#222" >T2D+MSCs</text>
<text x="0" y="0" font-size="8.4" text-anchor="middle" fill="#222" transform="translate(65.20,420.30) rotate(-90)">Phosphorylated IRS-1(Tyr<tspan font-size="5.8" dy="-3" stroke="#222" stroke-width="0.15">612</tspan><tspan dy="3">)</tspan></text>
<text x="0" y="0" font-size="8.8" text-anchor="middle" fill="#222" transform="translate(74.00,419.60) rotate(-90)">(% of control)</text>
</svg></body></html>
